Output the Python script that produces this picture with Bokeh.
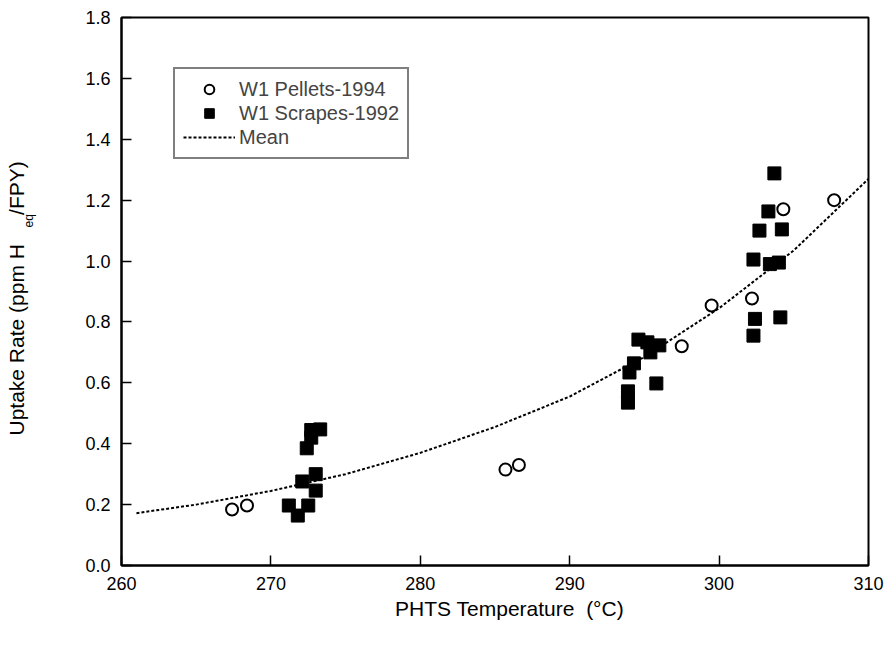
from bokeh.plotting import figure
from bokeh.models import Range1d, FixedTicker, NumeralTickFormatter, Legend, LegendItem, Title
from bokeh.embed import file_html
from bokeh.resources import INLINE

# ---- data ----
pellet_temp = [267.4, 268.4, 285.7, 286.6, 297.5, 299.5, 302.2, 304.3, 307.7]
pellet_rate = [0.184, 0.197, 0.315, 0.330, 0.720, 0.854, 0.877, 1.170, 1.200]

scrape_temp = [271.2, 271.8, 272.1, 272.5, 272.4, 272.7, 272.7, 273.3, 273.0, 273.0,
               293.9, 293.9, 294.0, 294.3, 294.6, 295.2, 295.4, 296.0, 295.8,
               302.3, 302.4, 304.1, 302.3, 303.4, 304.0, 302.7, 304.2, 303.3, 303.7]
scrape_rate = [0.197, 0.164, 0.276, 0.197, 0.385, 0.420, 0.445, 0.447, 0.300, 0.246,
               0.535, 0.572, 0.634, 0.664, 0.742, 0.733, 0.700, 0.723, 0.598,
               0.755, 0.810, 0.815, 1.005, 0.990, 0.995, 1.100, 1.104, 1.163, 1.288]

mean_temp = [261, 265, 270, 275, 280, 285, 290, 295, 300, 305, 310]
mean_rate = [0.172, 0.200, 0.245, 0.300, 0.370, 0.455, 0.555, 0.685, 0.845, 1.035, 1.270]

x_ticks = [260, 270, 280, 290, 300, 310]
y_ticks = [0.0, 0.2, 0.4, 0.6, 0.8, 1.0, 1.2, 1.4, 1.6, 1.8]

FONT = "Liberation Sans"
NB = "\u00a0"

p = figure(width=887, height=643, x_range=Range1d(260, 310), y_range=Range1d(0, 1.8),
           output_backend="svg", toolbar_location=None,
           min_border_left=121, min_border_right=19, min_border_top=17, min_border_bottom=78)

p.xgrid.visible = False
p.ygrid.visible = False
p.outline_line_color = "black"
p.outline_line_width = 2
p.background_fill_color = "white"

for ax in (p.xaxis[0], p.yaxis[0]):
    ax.axis_line_width = 2
    ax.axis_line_color = "black"
    ax.major_tick_in = 10
    ax.major_tick_out = 0
    ax.major_tick_line_width = 1.5
    ax.major_tick_line_color = "black"
    ax.minor_tick_line_color = None
    ax.major_label_text_font = FONT
    ax.major_label_text_font_size = "18px"
    ax.major_label_text_color = "black"
    ax.major_label_standoff = 11
    ax.axis_label_text_font = FONT
    ax.axis_label_text_font_size = "21px"
    ax.axis_label_text_font_style = "normal"
    ax.axis_label_text_color = "black"

p.xaxis.ticker = FixedTicker(ticks=x_ticks)
p.yaxis.ticker = FixedTicker(ticks=y_ticks)
p.yaxis.formatter = NumeralTickFormatter(format="0.0")

p.xaxis.axis_label = NB * 5 + "PHTS Temperature" + NB + " (°C)"
p.xaxis.axis_label_standoff = 4

# blank y-axis label used only as a spacer between tick labels and the title
p.yaxis.axis_label = NB
p.yaxis.axis_label_text_font_size = "1px"
p.yaxis.axis_label_standoff = 43

mean_r = p.line(mean_temp, mean_rate, line_color="black", line_width=2, line_dash="3 2")
pel_r = p.scatter(pellet_temp, pellet_rate, marker="circle", size=12,
                  fill_color="white", line_color="black", line_width=2)
scr_r = p.scatter(scrape_temp, scrape_rate, marker="square", size=13,
                  fill_color="black", line_color="black")

legend = Legend(items=[LegendItem(label="W1 Pellets-1994", renderers=[pel_r]),
                       LegendItem(label="W1 Scrapes-1992", renderers=[scr_r]),
                       LegendItem(label="Mean", renderers=[mean_r])],
                location=(52, 406), border_line_color="black", border_line_width=2,
                label_text_font=FONT, label_text_font_size="20px",
                glyph_width=52, glyph_height=24, label_height=24, spacing=0,
                padding=8, margin=0, label_standoff=4, background_fill_alpha=1)
p.add_layout(legend)

# y-axis title with subscript: two rotated side titles
t_eq = Title(text="eq", align="left", offset=338, standoff=0,
             text_font=FONT, text_font_size="12px", text_font_style="normal", text_color="black")
t_main = Title(text="Uptake Rate (ppm H" + NB * 5 + "/FPY)", align="left", offset=130, standoff=-16,
               text_font=FONT, text_font_size="21px", text_font_style="normal", text_color="black")
p.add_layout(t_eq, "left")
p.add_layout(t_main, "left")

open("out.html", "w").write(file_html(p, INLINE))
